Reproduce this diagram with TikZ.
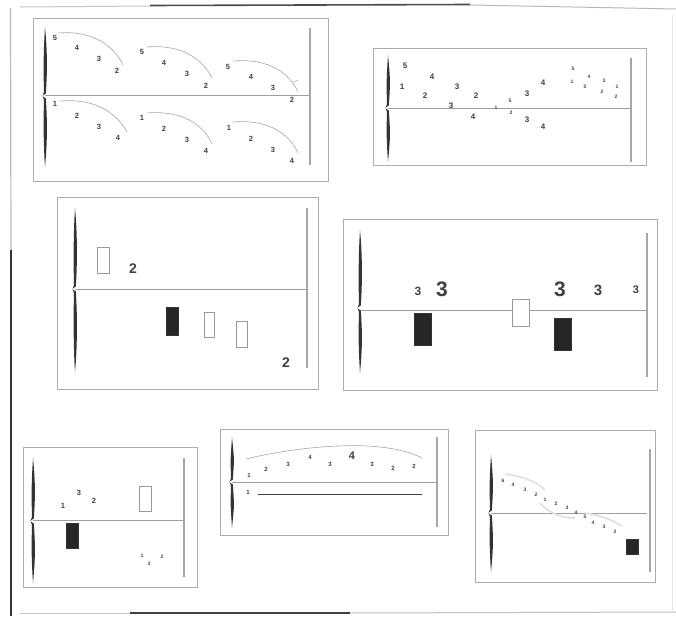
\documentclass[tikz,border=0pt]{standalone}
\usepackage{fontspec}
\setmainfont{Liberation Sans}
\newcommand\mybrace[4]{%
  \fill[bracecol] (#1,#2) .. controls (#1+2.4,#2+25) and (#1+2.4,#3-25) .. (#1+0.8,#3-2.5)
    -- (#1-2.8,#3) -- (#1+0.8,#3+2.5)
    .. controls (#1+2.4,#3+25) and (#1+2.4,#4-25) .. (#1,#4)
    .. controls (#1-1.6,#4-25) and (#1-1.6,#3+25) .. (#1-1.0,#3+4)
    -- (#1-2.4,#3) -- (#1-1.0,#3-4)
    .. controls (#1-1.6,#3-25) and (#1-1.6,#2+25) .. cycle;
  \fill[white] (#1-1.6,#3) -- (#1+0.2,#3-1.5) -- (#1+0.2,#3+1.5) -- cycle;}
\begin{document}
\begin{tikzpicture}[x=1pt,y=-1pt,
  panel/.style={draw=gray!65,line width=0.8pt},
  axisline/.style={draw=gray!75,line width=1pt},
  endline/.style={draw=gray!70,line width=1.4pt},
  arcline/.style={draw=gray!70,line width=0.6pt},
  faint/.style={draw=gray!25,line width=1.6pt},
  dig/.style={inner sep=0pt,text=black!75,font=\bfseries\fontsize{7.5}{8}\selectfont},
  tdig/.style={dig,font=\bfseries\fontsize{5}{5}\selectfont},
  sdig/.style={dig,font=\bfseries\fontsize{6}{6}\selectfont},
  openbox/.style={draw=gray!80,line width=0.7pt,fill=white},
  fullbox/.style={draw=black!80,fill=black!85},
  bracecol/.style={fill=black!80}]
\useasboundingbox (0,0) rectangle (676,616);
\fill[white] (0,0) rectangle (676,616);
% page frame
\draw[gray!45,line width=1pt] (20,7) -- (150,6);
\draw[black!70,line width=1.6pt] (150,5.5) -- (470,4.5);
\draw[gray!55,line width=1pt] (470,5) -- (676,9);
\draw[gray!55,line width=1.2pt] (10.5,8) -- (11,250);
\draw[black!80,line width=2pt] (11,250) -- (11,616);
\draw[gray!45,line width=1pt] (20,613) -- (130,613);
\draw[black!75,line width=1.8pt] (130,613) -- (350,613);
\draw[gray!50,line width=1pt] (350,613) -- (676,612);
\draw[gray!20,line width=0.6pt] (672,15) -- (672,610);
%% ---------- panel 1
\draw[panel] (33,18) rectangle (328,181);
\draw[axisline] (45,95) -- (310,95);
\draw[endline] (310,28) -- (310,165);
\mybrace{45}{27}{96}{167}
\draw[arcline] (58,33) .. controls (95,30) and (115,48) .. (123,65);
\draw[arcline] (147,47) .. controls (183,44) and (203,60) .. (212,78);
\draw[arcline] (233,61) .. controls (270,58) and (290,74) .. (298,92);
\draw[arcline] (60,101) .. controls (97,98) and (117,114) .. (127,132);
\draw[arcline] (147,113) .. controls (184,110) and (204,126) .. (212,144);
\draw[arcline] (233,122) .. controls (270,119) and (290,135) .. (298,153);
\draw[arcline] (294,82) -- (298,80);
\foreach \x/\y/\t [count=\i] in {55/38/5,77/48/4,99/59/3,117/71/2,
  142/52/5,164/63/4,187/74/3,206/86/2,228/67/5,251/77/4,273/88/3,292/100/2,
  55/104/1,77/116/2,99/127/3,118/138/4,142/118/1,164/129/2,187/140/3,206/151/4,
  229/128/1,251/139/2,273/150/3,292/161/4}
  \node[dig] (pa\i) at (\x,\y) {\t};
%% ---------- panel 2
\draw[panel] (373,48) rectangle (646,165);
\draw[axisline] (388,108) -- (631,108);
\draw[endline] (631,58) -- (631,162);
\mybrace{388}{55}{108}{162}
\foreach \x/\y/\t [count=\i] in {405/66/5,432/77/4,402/87/1,425/96/2,457/87/3,
  476/96/2,451/106/3,473/117/4,527/94/3,543/83/4,527/120/3,543/127/4}
  \node[dig,font=\bfseries\fontsize{8}{8}\selectfont] (pb\i) at (\x,\y) {\t};
\foreach \x/\y/\t [count=\i] in {496/108/1,510/101/5,511/113/2,573/69/5,589/77/4,
  604/81/3,572/82/1,585/87/5,602/92/2,617/87/1,616/97/2}
  \node[tdig] (pc\i) at (\x,\y) {\t};
%% ---------- panel 3
\draw[panel] (57,197) rectangle (318,389);
\draw[axisline] (75,289) -- (307,289);
\draw[endline] (307,208) -- (307,368);
\mybrace{75}{208}{289}{372}
\draw[openbox] (97,247) rectangle (109,273);
\draw[fullbox] (166,307) rectangle (178,335);
\draw[openbox] (204,312) rectangle (214,337);
\draw[openbox] (236,321) rectangle (247,347);
\node[dig,font=\bfseries\fontsize{14}{14}\selectfont] (pd1) at (133,269) {2};
\node[dig,font=\bfseries\fontsize{14}{14}\selectfont] (pd2) at (286,363) {2};
%% ---------- panel 4
\draw[panel] (343,219) rectangle (657,390);
\draw[axisline] (361,310) -- (648,310);
\draw[endline] (647,233) -- (647,377);
\mybrace{360}{230}{308}{373}
\draw[fullbox] (414,313) rectangle (431,345);
\draw[openbox] (512,299) rectangle (529,326);
\draw[fullbox] (554,318) rectangle (571,350);
\node[dig,font=\bfseries\fontsize{12}{12}\selectfont] (pe1) at (418,291) {3};
\node[dig,font=\bfseries\fontsize{21}{21}\selectfont] (pe2) at (442,289) {3};
\node[dig,font=\bfseries\fontsize{21}{21}\selectfont] (pe3) at (560,289) {3};
\node[dig,font=\bfseries\fontsize{15}{15}\selectfont] (pe4) at (598,290) {3};
\node[dig,font=\bfseries\fontsize{11}{11}\selectfont] (pe5) at (636,290) {3};
%% ---------- panel 5
\draw[panel] (23,447) rectangle (197,587);
\draw[axisline] (33,520) -- (183,520);
\draw[endline] (184,458) -- (184,577);
\mybrace{33}{458}{521}{583}
\draw[openbox] (139,486) rectangle (151,511);
\draw[fullbox] (66,523) rectangle (78,548);
\node[dig] (pf1) at (63,506) {1};
\node[dig] (pf2) at (79,493) {3};
\node[dig] (pf3) at (94,501) {2};
\node[tdig] (pf4) at (142,556) {1};
\node[tdig] (pf5) at (149,564) {3};
\node[tdig] (pf6) at (162,557) {2};
%% ---------- panel 6
\draw[panel] (220,429) rectangle (448,535);
\draw[axisline] (232,482) -- (437,482);
\draw[endline] (437,437) -- (437,527);
\mybrace{232}{437}{482}{528}
\draw[arcline] (246,459) .. controls (290,448) and (380,436) .. (422,458);
\draw[black!75,line width=0.7pt] (258,494) -- (422,494);
\foreach \x/\y/\t [count=\i] in {249/475/1,266/469/2,288/464/3,310/457/4,330/464/3,
  372/464/3,393/468/2,414/466/2,248/492/1}
  \node[sdig] (pg\i) at (\x,\y) {\t};
\node[dig,font=\bfseries\fontsize{11}{11}\selectfont] (pg10) at (352,456) {4};
%% ---------- panel 7
\draw[panel] (475,430) rectangle (655,582);
\draw[axisline] (491,513) -- (647,513);
\draw[endline] (650,449) -- (650,572);
\mybrace{491}{455}{513}{572}
\draw[faint] (505,474) .. controls (520,476) and (535,480) .. (545,490);
\draw[faint] (540,503) .. controls (548,512) and (560,518) .. (575,518);
\draw[faint] (585,513) .. controls (600,515) and (612,520) .. (622,526);
\draw[fullbox] (626,539) rectangle (638,554);
\foreach \x/\y/\t [count=\i] in {503/481/6,513/485/4,525/490/3,536/495/2,545/500/1,
  556/504/2,567/508/3,576/513/4,585/517/5,593/523/4,604/527/3,615/532/2}
  \node[tdig] (ph\i) at (\x,\y) {\t};
\end{tikzpicture}
\end{document}
